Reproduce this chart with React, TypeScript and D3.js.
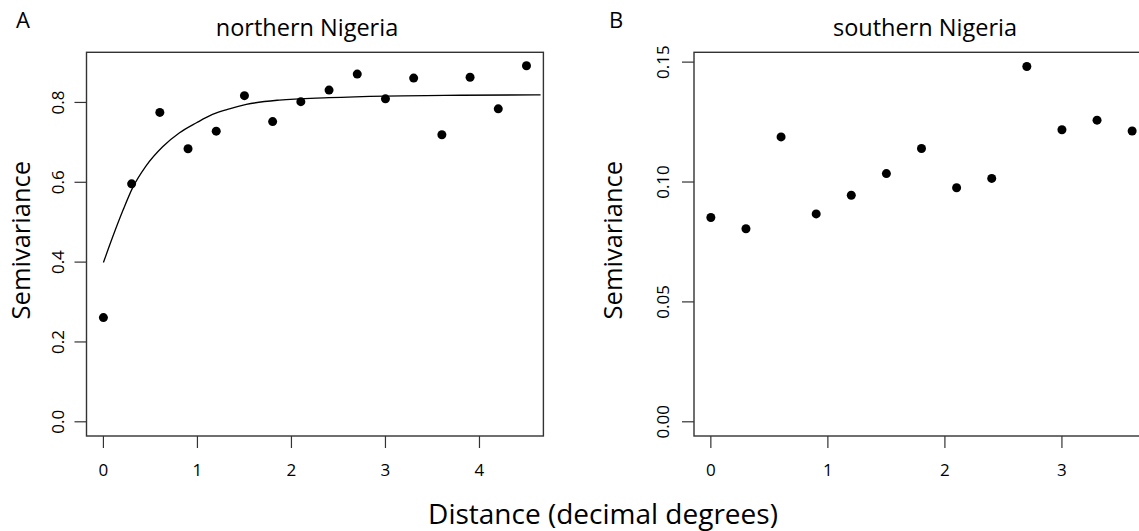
import * as d3 from 'd3';
import React from 'react';

// northern Nigeria: empirical semivariogram
const distNorth = [0, 0.3, 0.6, 0.9, 1.2, 1.5, 1.8, 2.1, 2.4, 2.7, 3.0, 3.3, 3.6, 3.9, 4.2, 4.5];
const semivarNorth = [0.261, 0.596, 0.775, 0.684, 0.728, 0.817, 0.752, 0.802, 0.831, 0.871, 0.809, 0.861, 0.719, 0.863, 0.784, 0.892];

// fitted model line
const fitDist = [0, 0.1, 0.21, 0.31, 0.45, 0.63, 0.81, 0.99, 1.16, 1.34, 1.52, 1.87, 2.4, 3.0, 3.8, 4.65];
const fitSemivar = [0.399, 0.464, 0.531, 0.586, 0.64, 0.689, 0.724, 0.749, 0.77, 0.784, 0.795, 0.806, 0.812, 0.816, 0.818, 0.819];

// southern Nigeria
const distSouth = [0, 0.3, 0.6, 0.9, 1.2, 1.5, 1.8, 2.1, 2.4, 2.7, 3.0, 3.3, 3.6];
const semivarSouth = [0.0852, 0.0805, 0.1188, 0.0867, 0.0945, 0.1035, 0.114, 0.0976, 0.1015, 0.1482, 0.1218, 0.1258, 0.1213];

const xTicksNorth = [0, 1, 2, 3, 4];
const yTicksNorth = [0, 0.2, 0.4, 0.6, 0.8];
const yLabelsNorth = ['0.0', '0.2', '0.4', '0.6', '0.8'];
const xTicksSouth = [0, 1, 2, 3];
const yTicksSouth = [0, 0.05, 0.1, 0.15];
const yLabelsSouth = ['0.00', '0.05', '0.10', '0.15'];

const FONT = "'Open Sans', sans-serif";
const AXIS = '#333';

const Panel = ({ left, right, top, bottom, xDomain, yDomain, xs, ys, xTicks, yTicks, yLabels, fit, title, titleX, letter, letterX, yLabelX, yTickX }: any) => {
  const x = d3.scaleLinear().domain(xDomain).range([left, right]);
  const y = d3.scaleLinear().domain(yDomain).range([bottom, top]);
  const line = d3
    .line<number>()
    .x((_, i) => x(fit[0][i]))
    .y((d) => y(d))
    .curve(d3.curveMonotoneX);
  const midY = (top + bottom) / 2 - 4;

  return (
    <g>
      <rect x={left} y={top} width={right - left} height={bottom - top} fill="none" stroke={AXIS} strokeWidth={1.4} />
      {xTicks.map((t: number) => (
        <g key={'x' + t}>
          <line x1={x(t)} x2={x(t)} y1={bottom} y2={bottom + 12} stroke={AXIS} strokeWidth={1.2} />
          <text x={x(t)} y={bottom + 40} textAnchor="middle" fontSize={17} fontFamily={FONT}>
            {t}
          </text>
        </g>
      ))}
      {yTicks.map((t: number, i: number) => (
        <g key={'y' + t}>
          <line x1={left - 12} x2={left} y1={y(t)} y2={y(t)} stroke={AXIS} strokeWidth={1.2} />
          <text
            transform={`translate(${yTickX},${y(t)}) rotate(-90)`}
            textAnchor="middle"
            dy="0.36em"
            fontSize={17}
            fontFamily={FONT}
          >
            {yLabels[i]}
          </text>
        </g>
      ))}
      {fit && <path d={line(fit[1]) || ''} fill="none" stroke="#000" strokeWidth={1.3} />}
      {xs.map((d: number, i: number) => (
        <circle key={i} cx={x(d)} cy={y(ys[i])} r={4.5} fill="#000" />
      ))}
      <text x={titleX} y={36} textAnchor="middle" fontSize={23.5} fontFamily={FONT}>
        {title}
      </text>
      <text x={letterX} y={28} textAnchor="middle" fontSize={22} fontFamily={FONT}>
        {letter}
      </text>
      <text
        transform={`translate(${yLabelX},${midY}) rotate(-90)`}
        textAnchor="middle"
        dy="0.36em"
        fontSize={25.5}
        fontFamily={FONT}
      >
        Semivariance
      </text>
    </g>
  );
};

export default function App() {
  return (
    <svg
      width={1139}
      height={531}
      style={{ position: 'absolute', left: 0, top: 0, background: '#fff' }}
    >
      <Panel
        left={86.5}
        right={543.4}
        top={52.3}
        bottom={436}
        xDomain={[-0.18, 4.68]}
        yDomain={[-0.0356, 0.9256]}
        xs={distNorth}
        ys={semivarNorth}
        xTicks={xTicksNorth}
        yTicks={yTicksNorth}
        yLabels={yLabelsNorth}
        fit={[fitDist, fitSemivar]}
        title="northern Nigeria"
        titleX={307}
        letter="A"
        letterX={23}
        yLabelX={21}
        yTickX={58}
      />
      <Panel
        left={694}
        right={1149}
        top={52.3}
        bottom={436}
        xDomain={[-0.144, 3.744]}
        yDomain={[-0.00593, 0.1541]}
        xs={distSouth}
        ys={semivarSouth}
        xTicks={xTicksSouth}
        yTicks={yTicksSouth}
        yLabels={yLabelsSouth}
        fit={null}
        title="southern Nigeria"
        titleX={925}
        letter="B"
        letterX={616}
        yLabelX={613}
        yTickX={663}
      />
      <text x={603} y={524} textAnchor="middle" fontSize={28} fontFamily={FONT}>
        Distance (decimal degrees)
      </text>
    </svg>
  );
}
